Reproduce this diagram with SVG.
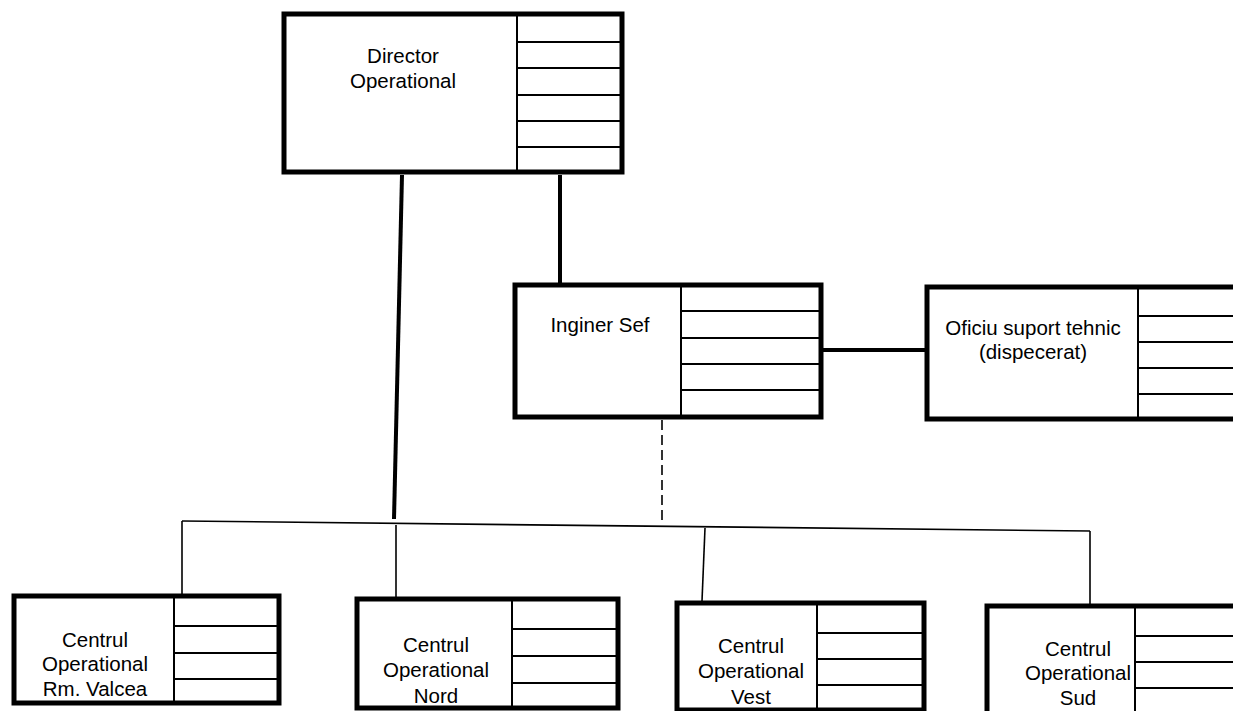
<svg xmlns="http://www.w3.org/2000/svg" width="1233" height="711" viewBox="0 0 1233 711">
<style>
.box{fill:#fff;stroke:#000;stroke-width:5}
.in{stroke:#000;stroke-width:2;fill:none}
.t{font-family:"Liberation Sans",Arial,sans-serif;font-size:20.5px;fill:#000;text-anchor:middle}
.thick{stroke:#000;stroke-width:4;fill:none}
.thin{stroke:#000;stroke-width:1.6;fill:none}
.dash{stroke:#000;stroke-width:1.6;fill:none;stroke-dasharray:10 5}
</style>
<rect width="1233" height="711" fill="#fff"/>
<g id="connectors">
<line class="thick" x1="402" y1="175" x2="394" y2="519"/>
<line class="thick" x1="560" y1="175" x2="560" y2="285"/>
<line class="thick" x1="823" y1="350" x2="925" y2="350"/>
<line class="dash" x1="662" y1="420" x2="662" y2="523"/>
<line class="thin" x1="182" y1="521" x2="1090" y2="531"/>
<line class="thin" x1="182" y1="521" x2="182" y2="594"/>
<line class="thin" x1="396" y1="525" x2="396" y2="597"/>
<line class="thin" x1="705" y1="528" x2="702" y2="601"/>
<line class="thin" x1="1090" y1="531" x2="1090" y2="604"/>
</g>
<g id="director">
<rect class="box" x="284" y="14" width="338" height="158"/>
<path class="in" d="M517 14V172M517 42H622M517 68H622M517 95H622M517 121H622M517 147H622"/>
<text class="t" x="403" y="63">Director</text>
<text class="t" x="403" y="88">Operational</text>
</g>
<g id="inginer">
<rect class="box" x="515" y="285" width="306" height="132"/>
<path class="in" d="M681 285V417M681 311H821M681 338H821M681 364H821M681 390H821"/>
<text class="t" x="600" y="332">Inginer Sef</text>
</g>
<g id="oficiu">
<rect class="box" x="927" y="287" width="330" height="132"/>
<path class="in" d="M1138 287V419M1138 316H1240M1138 342H1240M1138 368H1240M1138 394H1240"/>
<text class="t" x="1033" y="335">Oficiu suport tehnic</text>
<text class="t" x="1033" y="359">(dispecerat)</text>
</g>
<g id="valcea">
<rect class="box" x="14" y="596" width="265" height="107"/>
<path class="in" d="M174 596V703M174 626H279M174 653H279M174 679H279"/>
<text class="t" x="95" y="647">Centrul</text>
<text class="t" x="95" y="671">Operational</text>
<text class="t" x="95" y="696">Rm. Valcea</text>
</g>
<g id="nord">
<rect class="box" x="357" y="599" width="261" height="109"/>
<path class="in" d="M512 599V708M512 629H618M512 656H618M512 683H618"/>
<text class="t" x="436" y="652">Centrul</text>
<text class="t" x="436" y="677">Operational</text>
<text class="t" x="436" y="703">Nord</text>
</g>
<g id="vest">
<rect class="box" x="677" y="603" width="247" height="107"/>
<path class="in" d="M817 603V710M817 633H924M817 659H924M817 685H924"/>
<text class="t" x="751" y="653">Centrul</text>
<text class="t" x="751" y="678">Operational</text>
<text class="t" x="751" y="704">Vest</text>
</g>
<g id="sud">
<rect class="box" x="987" y="606" width="280" height="120"/>
<path class="in" d="M1135 606V720M1135 636H1240M1135 662H1240M1135 688H1240"/>
<text class="t" x="1078" y="656">Centrul</text>
<text class="t" x="1078" y="680">Operational</text>
<text class="t" x="1078" y="705">Sud</text>
</g>
</svg>
